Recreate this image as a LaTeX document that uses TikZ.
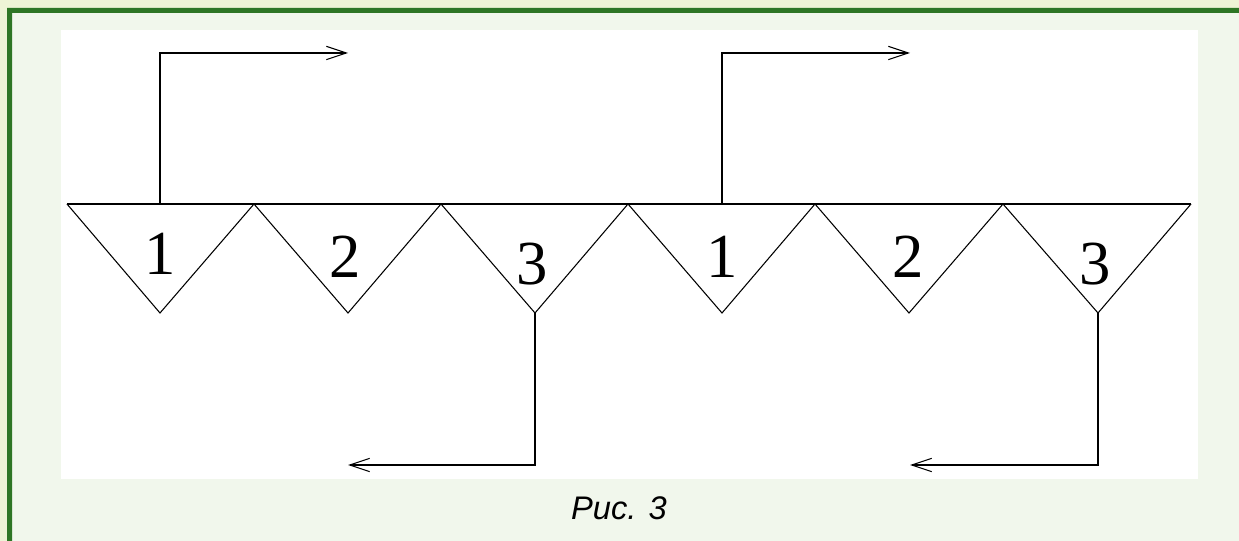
\documentclass[tikz,border=0pt]{standalone}
\usepackage{fontspec}
\setmainfont{Liberation Serif}
\setsansfont{Liberation Sans}
\usetikzlibrary{arrows.meta}
\definecolor{paleout}{HTML}{EEF4D6}
\definecolor{palein}{HTML}{F1F7EC}
\definecolor{frame}{HTML}{2E7625}
\begin{document}
\begin{tikzpicture}[x=0.75pt,y=-0.75pt,line width=0.8pt,
  flow/.style={-{Straight Barb[length=15pt,width=10pt]}},
  num/.style={font=\fontsize{47}{47}\selectfont}]
 \useasboundingbox (0,0) rectangle (1239,541);
 \fill[palein] (0,0) rectangle (1239,541); %фон
 \fill[paleout] (0,0) rectangle (1239,8) (0,0) rectangle (7,541);
 \fill[frame] (7,8) rectangle (1239,13) (7,8) rectangle (12,541); %рамка
 \fill[white] (61,30) rectangle (1198,479); %поле рисунка
 % вершины треугольников
 \foreach \i/\xa in {0/67,1/254,2/441,3/628,4/815,5/1003,6/1191}
  \coordinate (t\i) at (\xa,204);
 \foreach \i/\xa in {1/160,2/348,3/535,4/722,5/909,6/1098}
  \coordinate (b\i) at (\xa,313);
 \draw (t0)--(t6); %верхняя линия
 \draw (t0)--(b1)--(t1)--(b2)--(t2)--(b3)--(t3)--(b4)--(t4)--(b5)--(t5)--(b6)--(t6);
 \foreach \i/\xa/\ya/\n in {1/160/254/1,2/345/257/2,3/532/264/3,4/722/257/1,5/908/257/2,6/1095/264/3}
  \node[num] (n\i) at (\xa,\ya) {\n};
 % выходы
 \coordinate (u1) at (160,204); \coordinate (e1) at (348,53);
 \coordinate (u4) at (722,204); \coordinate (e4) at (910,53);
 \coordinate (e3) at (348,465); \coordinate (e6) at (910,465);
 \draw[flow] (u1)|-(e1);
 \draw[flow] (u4)|-(e4);
 \draw[flow] (b3)|-(e3);
 \draw[flow] (b6)|-(e6);
 \node[font=\sffamily\itshape\fontsize{24.5}{24.5}\selectfont] (cap) at (619,508) {Рис. 3}; %подпись
\end{tikzpicture}
\end{document}
